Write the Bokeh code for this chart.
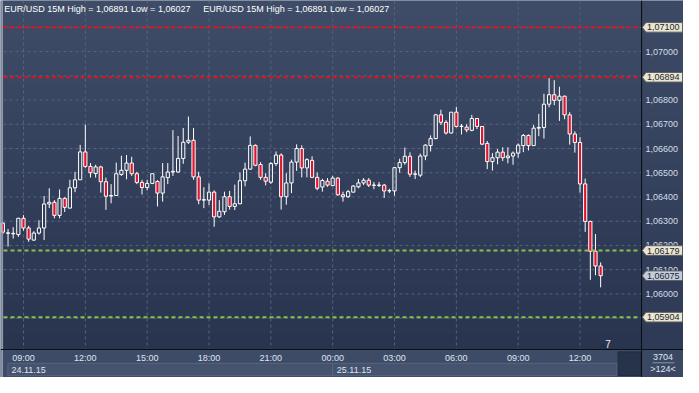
import numpy as np
from bokeh.plotting import figure
from bokeh.models import ColumnDataSource, Range1d
from bokeh.core.properties import value
from bokeh.embed import file_html
from bokeh.resources import INLINE

# ---------------- data ----------------
title_text = "EUR/USD 15M High = 1,06891 Low = 1,06027"

# 15-minute bars, index 0 = 24.11.15 09:00
bar_index = list(range(-4, 113))
opens = [1.06292, 1.06250, 1.06248, 1.06245, 1.06312, 1.06272, 1.06222, 1.06251, 1.06272, 1.06371,
         1.06378, 1.06324, 1.06394, 1.06354, 1.06438, 1.06471, 1.06586, 1.06526, 1.06497, 1.06524,
         1.06463, 1.06404, 1.06406, 1.06493, 1.06510, 1.06540, 1.06496, 1.06460, 1.06439, 1.06456,
         1.06464, 1.06416, 1.06480, 1.06503, 1.06503, 1.06559, 1.06626, 1.06634, 1.06483, 1.06387,
         1.06387, 1.06420, 1.06318, 1.06339, 1.06401, 1.06361, 1.06372, 1.06467, 1.06515, 1.06613,
         1.06534, 1.06481, 1.06461, 1.06538, 1.06573, 1.06401, 1.06458, 1.06544, 1.06600, 1.06520,
         1.06551, 1.06481, 1.06441, 1.06465, 1.06447, 1.06478, 1.06409, 1.06401, 1.06420, 1.06442,
         1.06458, 1.06469, 1.06449, 1.06449, 1.06449, 1.06425, 1.06425, 1.06521, 1.06542, 1.06568,
         1.06494, 1.06490, 1.06569, 1.06612, 1.06641, 1.06739, 1.06708, 1.06664, 1.06750, 1.06691,
         1.06688, 1.06675, 1.06724, 1.06691, 1.06621, 1.06546, 1.06562, 1.06585, 1.06562, 1.06569,
         1.06581, 1.06612, 1.06654, 1.06612, 1.06684, 1.06687, 1.06783, 1.06822, 1.06799, 1.06816,
         1.06739, 1.06660, 1.06625, 1.06454, 1.06299, 1.06176, 1.06115]
highs = [1.06296, 1.06268, 1.06275, 1.06314, 1.06325, 1.06281, 1.06259, 1.06304, 1.06404, 1.06436,
         1.06387, 1.06431, 1.06399, 1.06471, 1.06504, 1.06615, 1.06699, 1.06540, 1.06533, 1.06529,
         1.06480, 1.06453, 1.06542, 1.06570, 1.06573, 1.06566, 1.06504, 1.06471, 1.06471, 1.06496,
         1.06469, 1.06540, 1.06540, 1.06676, 1.06652, 1.06685, 1.06732, 1.06685, 1.06504, 1.06440,
         1.06456, 1.06427, 1.06387, 1.06422, 1.06425, 1.06451, 1.06501, 1.06542, 1.06650, 1.06617,
         1.06544, 1.06498, 1.06544, 1.06588, 1.06580, 1.06498, 1.06554, 1.06617, 1.06613, 1.06560,
         1.06568, 1.06501, 1.06475, 1.06478, 1.06487, 1.06481, 1.06422, 1.06429, 1.06449, 1.06474,
         1.06478, 1.06478, 1.06462, 1.06462, 1.06454, 1.06434, 1.06524, 1.06558, 1.06604, 1.06584,
         1.06509, 1.06579, 1.06618, 1.06654, 1.06743, 1.06760, 1.06717, 1.06750, 1.06772, 1.06701,
         1.06700, 1.06739, 1.06726, 1.06693, 1.06631, 1.06581, 1.06598, 1.06605, 1.06605, 1.06588,
         1.06621, 1.06660, 1.06658, 1.06697, 1.06743, 1.06826, 1.06891, 1.06882, 1.06855, 1.06818,
         1.06750, 1.06671, 1.06647, 1.06476, 1.06302, 1.06247, 1.06130]
lows = [1.06248, 1.06195, 1.06228, 1.06235, 1.06261, 1.06215, 1.06219, 1.06245, 1.06222, 1.06354,
        1.06312, 1.06312, 1.06338, 1.06354, 1.06420, 1.06471, 1.06520, 1.06480, 1.06480, 1.06418,
        1.06347, 1.06374, 1.06404, 1.06487, 1.06473, 1.06487, 1.06453, 1.06410, 1.06427, 1.06453,
        1.06361, 1.06381, 1.06453, 1.06487, 1.06500, 1.06537, 1.06619, 1.06471, 1.06370, 1.06354,
        1.06367, 1.06277, 1.06314, 1.06326, 1.06348, 1.06346, 1.06370, 1.06444, 1.06512, 1.06527,
        1.06471, 1.06448, 1.06454, 1.06528, 1.06348, 1.06368, 1.06416, 1.06508, 1.06481, 1.06481,
        1.06478, 1.06428, 1.06422, 1.06442, 1.06445, 1.06405, 1.06381, 1.06396, 1.06418, 1.06436,
        1.06449, 1.06441, 1.06432, 1.06441, 1.06396, 1.06416, 1.06405, 1.06500, 1.06533, 1.06483,
        1.06474, 1.06482, 1.06552, 1.06588, 1.06638, 1.06697, 1.06658, 1.06662, 1.06687, 1.06658,
        1.06667, 1.06671, 1.06680, 1.06614, 1.06515, 1.06509, 1.06535, 1.06548, 1.06539, 1.06533,
        1.06562, 1.06585, 1.06592, 1.06612, 1.06651, 1.06641, 1.06770, 1.06779, 1.06714, 1.06721,
        1.06616, 1.06583, 1.06418, 1.06256, 1.06058, 1.06077, 1.06027]
closes = [1.06255, 1.06252, 1.06250, 1.06312, 1.06272, 1.06226, 1.06251, 1.06272, 1.06371, 1.06378,
          1.06324, 1.06394, 1.06357, 1.06438, 1.06471, 1.06586, 1.06526, 1.06500, 1.06524, 1.06463,
          1.06403, 1.06406, 1.06496, 1.06510, 1.06540, 1.06496, 1.06460, 1.06439, 1.06456, 1.06496,
          1.06416, 1.06483, 1.06503, 1.06506, 1.06559, 1.06626, 1.06634, 1.06483, 1.06387, 1.06389,
          1.06420, 1.06318, 1.06341, 1.06401, 1.06361, 1.06372, 1.06467, 1.06515, 1.06613, 1.06531,
          1.06481, 1.06465, 1.06538, 1.06573, 1.06401, 1.06458, 1.06544, 1.06600, 1.06520, 1.06554,
          1.06481, 1.06436, 1.06468, 1.06449, 1.06478, 1.06409, 1.06401, 1.06422, 1.06445, 1.06458,
          1.06469, 1.06449, 1.06448, 1.06448, 1.06425, 1.06426, 1.06521, 1.06542, 1.06568, 1.06494,
          1.06495, 1.06569, 1.06614, 1.06641, 1.06739, 1.06708, 1.06664, 1.06750, 1.06691, 1.06692,
          1.06677, 1.06724, 1.06691, 1.06618, 1.06546, 1.06562, 1.06585, 1.06562, 1.06569, 1.06581,
          1.06614, 1.06654, 1.06612, 1.06684, 1.06687, 1.06783, 1.06822, 1.06799, 1.06816, 1.06739,
          1.06660, 1.06625, 1.06454, 1.06299, 1.06176, 1.06115, 1.06075]

time_ticks = [0, 12, 24, 36, 48, 60, 72, 84, 96, 108]
time_labels = ["09:00", "12:00", "15:00", "18:00", "21:00", "00:00", "03:00", "06:00", "09:00", "12:00"]
date_labels = ["24.11.15", "25.11.15"]
day_boundary = 60
price_ticks = [1.059, 1.060, 1.061, 1.062, 1.063, 1.064, 1.065, 1.066, 1.067, 1.068, 1.069, 1.070, 1.071]
red_levels = [1.07100, 1.06894]
green_levels = [1.06179, 1.05904]
current_price = 1.06075
tag_levels = [1.07100, 1.06894, 1.06179, 1.06075, 1.05904]
counter_text = "7"
panel_top_text = "3704"
panel_bottom_text = ">124<"

# ---------------- layout (canvas px -> data) ----------------
W, H = 683, 377
FL, FR, FT, FB = 3, 641, 0, 349          # plot area inside the canvas
xs0, xs1 = -3.88, 119.93                  # bar index at plot-area left/right
ys0, ys1 = 1.057705, 1.072109             # price at plot-area bottom/top

def dx(px):
    return xs0 + (px - FL) / (FR - FL) * (xs1 - xs0)

def dy(py):
    return ys1 - (py - FT) / (FB - FT) * (ys1 - ys0)

FONT = value("Liberation Sans")
FS = value("9px")
RED = "#e0142f"
PANEL = "#3e4b67"

p = figure(width=W, height=H, x_range=Range1d(dx(0), dx(W)), y_range=Range1d(dy(H), dy(0)),
           output_backend="svg", toolbar_location=None, x_axis_location=None,
           y_axis_location=None, min_border=0, border_fill_color=PANEL,
           background_fill_color=PANEL, outline_line_color=None)
p.xgrid.visible = False
p.ygrid.visible = False

def gradient(top_rgb, bot_rgb, n=256):
    t = np.linspace(0, 1, n)[:, None]
    cols = (np.array(bot_rgb, float) + (np.array(top_rgb, float) - np.array(bot_rgb, float)) * t)
    cols = cols.astype(np.uint8)
    img = np.zeros((n, 1), dtype=np.uint32)
    v = img.view(dtype=np.uint8).reshape((n, 1, 4))
    v[:, 0, 0] = cols[:, 0]; v[:, 0, 1] = cols[:, 1]; v[:, 0, 2] = cols[:, 2]; v[:, 0, 3] = 255
    return img

# plot area and right scale backgrounds
p.image_rgba(image=[gradient((63, 77, 104), (41, 52, 79))], x=dx(FL), y=dy(FB),
             dw=dx(FR) - dx(FL), dh=dy(FT) - dy(FB))
p.image_rgba(image=[gradient((60, 74, 101), (47, 59, 86))], x=dx(FR), y=dy(FB),
             dw=dx(W) - dx(FR), dh=dy(FT) - dy(FB))

# grid
p.segment(x0=dx(FL), x1=dx(FR), y0=price_ticks, y1=price_ticks,
          line_color="#56647f", line_width=1, line_dash="3 3")
p.segment(x0=time_ticks, x1=time_ticks, y0=dy(FT), y1=dy(FB),
          line_color="#56647f", line_width=1, line_dash="3 3")

# candles
o = np.array(opens); c = np.array(closes); h = np.array(highs); l = np.array(lows)
idx = np.array(bar_index)
body_top = np.maximum(o, c)
body_bot = np.minimum(o, c)
up = c >= o
wicks = ColumnDataSource(dict(x=idx, h=h, l=l, top=body_top, bot=body_bot))
p.segment(x0="x", y0="h", x1="x", y1="top", source=wicks, line_color="#ffffff", line_width=1)
p.segment(x0="x", y0="bot", x1="x", y1="l", source=wicks, line_color="#ffffff", line_width=1)
src_up = ColumnDataSource(dict(x=idx[up], top=body_top[up], bottom=body_bot[up]))
src_dn = ColumnDataSource(dict(x=idx[~up], top=body_top[~up], bottom=body_bot[~up]))
p.vbar(x="x", width=0.62, top="top", bottom="bottom", source=src_up,
       fill_color=None, line_color="#ffffff", line_width=1)
p.vbar(x="x", width=0.62, top="top", bottom="bottom", source=src_dn,
       fill_color=RED, line_color="#ffffff", line_width=1)

# level lines
p.segment(x0=dx(FL), x1=dx(FR - 1), y0=red_levels, y1=red_levels,
          line_color="#e8101e", line_width=2, line_dash="4 3")
p.segment(x0=dx(FL), x1=dx(FR - 1), y0=green_levels, y1=green_levels,
          line_color="#8cc04a", line_width=2, line_dash="4 3")

# bottom strip
p.quad(left=dx(0), right=dx(FR), bottom=dy(H), top=dy(FB), fill_color=PANEL, line_color=None)
p.quad(left=[dx(7.4), day_boundary], right=[day_boundary, dx(616.6)],
       bottom=dy(375.2), top=dy(362.8), fill_color="#46536f", line_color="#59657f", line_width=1)
p.quad(left=dx(617.6), right=dx(640.0), bottom=dy(375.0), top=dy(351.4),
       fill_color="#27324b", line_color="#222b40")
p.quad(left=dx(FR), right=dx(W), bottom=dy(H), top=dy(FB), fill_color="#3b4864", line_color=None)

# frame lines
p.quad(left=dx(0.8), right=dx(2.4), bottom=dy(H), top=dy(0), fill_color="#9aa3b5", line_color=None)
p.quad(left=dx(640.5), right=dx(641.6), bottom=dy(H), top=dy(0), fill_color="#0b0f18", line_color=None)
p.quad(left=dx(0), right=dx(W), bottom=dy(349.6), top=dy(348.5), fill_color="#0b0f18", line_color=None)

# scale labels
p.text(x=dx(645), y=price_ticks, text=[f"{v:.5f}".replace(".", ",") for v in price_ticks],
       text_font=FONT, text_font_size=FS, text_color="#d6dce8",
       text_align="left", text_baseline="middle")
p.text(x=time_ticks, y=dy(357.4), text=time_labels, text_font=FONT, text_font_size=FS,
       text_color="#dfe5ef", text_align="center", text_baseline="middle")
p.text(x=[dx(11.0), day_boundary + 0.8], y=dy(369.0), text=date_labels, text_font=FONT,
       text_font_size=FS, text_color="#dfe5ef", text_align="left", text_baseline="middle")

# right-bottom counters
p.text(x=dx(662.5), y=[dy(356.0), dy(368.6)], text=[panel_top_text, panel_bottom_text],
       text_font=FONT, text_font_size=FS, text_color="#dfe5ef", text_align="center",
       text_baseline="middle")
p.segment(x0=dx(652), x1=dx(674), y0=dy(362.3), y1=dy(362.3), line_color="#8a94a8", line_width=1)

# small counter marker inside plot
p.patch(x=[dx(598.5), dx(606.5), dx(602.5)], y=[dy(347.5), dy(347.5), dy(342.5)],
        fill_color="#232d45", line_color=None)
p.text(x=dx(607.6), y=dy(343.6), text=[counter_text], text_font=FONT,
       text_font_size=value("10px"), text_color="#e8eef8", text_align="center",
       text_baseline="middle")

# price tags on the right scale
hh = 4.8 / (FB - FT) * (ys1 - ys0)
tag_xs = [[dx(641.8), dx(645.5), dx(682.0), dx(682.0), dx(645.5)] for _ in tag_levels]
tag_ys = [[lv, lv + hh, lv + hh, lv - hh, lv - hh] for lv in tag_levels]
tag_fill = ["#c5cdd9" if lv == current_price else "#ebe7cf" for lv in tag_levels]
p.patches(xs=tag_xs, ys=tag_ys, fill_color=tag_fill, line_color="#5c5f66", line_width=1)
p.text(x=dx(646.5), y=tag_levels, text=[f"{lv:.5f}".replace(".", ",") for lv in tag_levels],
       text_font=FONT, text_font_size=FS, text_color="#1b2338", text_align="left",
       text_baseline="middle")

# chart titles
p.text(x=[dx(3.8), dx(202.7)], y=dy(8.6), text=[title_text, title_text], text_font=FONT,
       text_font_size=FS, text_color="#ffffff", text_align="left", text_baseline="middle")

open("out.html", "w").write(file_html(p, INLINE))
